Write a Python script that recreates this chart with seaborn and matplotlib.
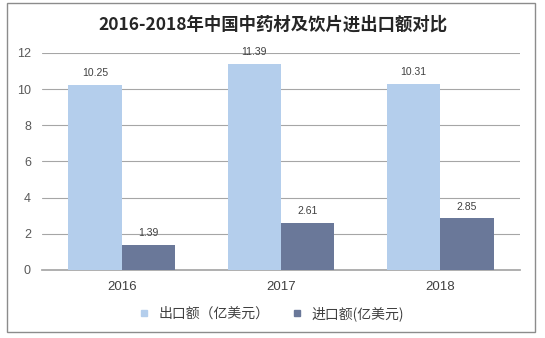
import matplotlib
matplotlib.use("Agg")
import matplotlib.pyplot as plt
import seaborn as sns
import pandas as pd
from matplotlib.patches import Rectangle
from matplotlib.lines import Line2D

years = ["2016", "2017", "2018"]
export_vals = [10.25, 11.39, 10.31]
import_vals = [1.39, 2.61, 2.85]
series_names = ["出口额（亿美元）", "进口额(亿美元)"]
yticks = [0, 2, 4, 6, 8, 10, 12]

sns.set_theme(style="white")
plt.rcParams['font.family'] = ['Noto Sans CJK SC', 'DejaVu Sans']

df = pd.DataFrame({
    "year": years * 2,
    "value": export_vals + import_vals,
    "series": [series_names[0]] * 3 + [series_names[1]] * 3,
})

colors = ["#B4CEEC", "#6A7899"]

fig = plt.figure(figsize=(5.45, 3.38), dpi=100)
ax = fig.add_axes([0.0771, 0.2012, 0.877, 0.642])
sns.barplot(data=df, x="year", y="value", hue="series", palette=colors,
            width=0.67, saturation=1, ax=ax, legend=False, zorder=3,
            linewidth=0, edgecolor="none")

ax.set_ylim(0, 12)
ax.set_yticks(yticks)
ax.set_yticklabels([str(t) for t in yticks], color="#595959", fontsize=9, family="Liberation Sans")
ax.set_xticklabels(years, color="#404040", fontsize=9.5, family="Liberation Sans")
ax.set_xlabel("")
ax.set_ylabel("")
ax.grid(axis="y", color="#A6A6A6", linewidth=0.8, zorder=0)
for s in ["top", "right", "left"]:
    ax.spines[s].set_visible(False)
ax.spines["bottom"].set_color("#A6A6A6")
ax.tick_params(axis="both", length=0, pad=8)

for cont in ax.containers:
    ax.bar_label(cont, fmt="%.2f", fontsize=7.5, color="#404040", padding=5, family="Liberation Sans")

fig.text(0.5, 0.928, "2016-2018年中国中药材及饮片进出口额对比", ha="center", va="center",
         fontsize=12.5, fontweight="semibold", color="#262626")

handles = [Line2D([], [], marker="s", linestyle="", markersize=4.5, color=c) for c in colors]
fig.legend(handles, series_names, loc="center", bbox_to_anchor=(0.49, 0.073), ncol=2,
           frameon=False, fontsize=10, handletextpad=0.05, columnspacing=1.0,
           labelcolor="#404040")

fig.patches.append(Rectangle((7 / 545, 1 - 332 / 338), 528 / 545, 329 / 338,
                             transform=fig.transFigure, fill=False,
                             edgecolor="#8C8C8C", linewidth=1.0))

fig.savefig("out.png", dpi=100)
